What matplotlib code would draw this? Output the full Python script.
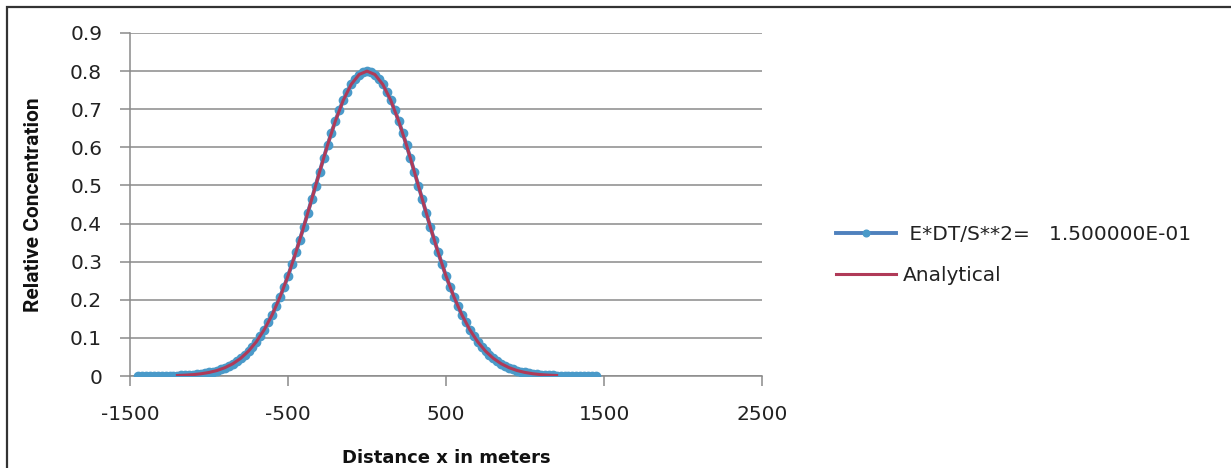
import matplotlib
matplotlib.use("Agg")
import matplotlib.pyplot as plt
import numpy as np
from matplotlib.patches import Rectangle


# numerical solution, every 25 m from -1450 to 1450
numeric_x = np.arange(-1450, 1451, 25)
numeric_conc = [
    0.0001, 0.0001, 0.0001, 0.0002, 0.0002, 0.0003, 0.0004, 0.0005, 0.0007, 0.0010,
    0.0013, 0.0017, 0.0022, 0.0028, 0.0036, 0.0046, 0.0059, 0.0074, 0.0093, 0.0116,
    0.0143, 0.0177, 0.0217, 0.0264, 0.0320, 0.0386, 0.0462, 0.0551, 0.0653, 0.0769,
    0.0901, 0.1051, 0.1218, 0.1404, 0.1609, 0.1834, 0.2079, 0.2343, 0.2626, 0.2928,
    0.3246, 0.3578, 0.3922, 0.4276, 0.4635, 0.4997, 0.5358, 0.5712, 0.6056, 0.6385,
    0.6694, 0.6980, 0.7237, 0.7462, 0.7651, 0.7802, 0.7911, 0.7978, 0.8000, 0.7978,
    0.7911, 0.7802, 0.7651, 0.7462, 0.7237, 0.6980, 0.6694, 0.6385, 0.6056, 0.5712,
    0.5358, 0.4997, 0.4635, 0.4276, 0.3922, 0.3578, 0.3246, 0.2928, 0.2626, 0.2343,
    0.2079, 0.1834, 0.1609, 0.1404, 0.1218, 0.1051, 0.0901, 0.0769, 0.0653, 0.0551,
    0.0462, 0.0386, 0.0320, 0.0264, 0.0217, 0.0177, 0.0143, 0.0116, 0.0093, 0.0074,
    0.0059, 0.0046, 0.0036, 0.0028, 0.0022, 0.0017, 0.0013, 0.0010, 0.0007, 0.0005,
    0.0004, 0.0003, 0.0002, 0.0002, 0.0001, 0.0001, 0.0001,
]

# analytical solution, every 50 m from -1200 to 1200
analytic_x = np.arange(-1200, 1201, 50)
analytic_conc = [
    0.0013, 0.0022, 0.0036, 0.0059, 0.0093, 0.0143, 0.0217, 0.0320, 0.0462, 0.0653,
    0.0901, 0.1218, 0.1609, 0.2079, 0.2626, 0.3246, 0.3922, 0.4635, 0.5358, 0.6056,
    0.6694, 0.7237, 0.7651, 0.7911, 0.8000, 0.7911, 0.7651, 0.7237, 0.6694, 0.6056,
    0.5358, 0.4635, 0.3922, 0.3246, 0.2626, 0.2079, 0.1609, 0.1218, 0.0901, 0.0653,
    0.0462, 0.0320, 0.0217, 0.0143, 0.0093, 0.0059, 0.0036, 0.0022, 0.0013,
]

x_ticks = [-1500, -500, 500, 1500, 2500]
y_ticks = [0, 0.1, 0.2, 0.3, 0.4, 0.5, 0.6, 0.7, 0.8, 0.9]
y_labels = ["0", "0.1", "0.2", "0.3", "0.4", "0.5", "0.6", "0.7", "0.8", "0.9"]

plt.rcParams['font.family'] = ['DejaVu Sans']
plt.rcParams['axes.unicode_minus'] = False

W, H = 1231, 468
fig = plt.figure(figsize=(W / 100, H / 100), dpi=100)
ax = fig.add_axes([130 / W, 1 - 376 / H, (762 - 130) / W, (376 - 33) / H])

grid_col = '#8a8a8a'
ax.plot(numeric_x, numeric_conc, color='#4f81bd', lw=2.8, marker='o', ms=6,
        mfc='#4a9ac9', mec='#4a9ac9', label=' E*DT/S**2=   1.500000E-01', zorder=3)
ax.plot(analytic_x, analytic_conc, color='#b03a58', lw=2.2, label='Analytical', zorder=4)

ax.set_xlim(-1500, 2500)
ax.set_ylim(0, 0.9)
ax.set_xticks(x_ticks)
ax.set_yticks(y_ticks)
ax.set_yticklabels(y_labels)
ax.yaxis.grid(True, color=grid_col, lw=1.1)
ax.set_axisbelow(True)

for s in ['top', 'right']:
    ax.spines[s].set_visible(False)
for s in ['left', 'bottom']:
    ax.spines[s].set_color(grid_col)
    ax.spines[s].set_linewidth(1.1)

ax.tick_params(axis='both', colors=grid_col, labelcolor='#222222', labelsize=14.5,
               length=7, width=1.1, direction='out')
ax.tick_params(axis='y', pad=13)
ax.tick_params(axis='x', pad=14)

ax.set_ylabel('Relative Concentration', fontsize=15, fontweight='bold',
              family=['Roboto', 'DejaVu Sans'], color='#111111')
ax.yaxis.set_label_coords(-0.137, 0.5)
ax.set_xlabel('Distance x in meters', fontsize=13, fontweight='bold', color='#111111')
ax.xaxis.set_label_coords(0.5, -0.214)

leg = ax.legend(loc='center left', bbox_to_anchor=(828 / W, 1 - 255 / H),
                bbox_transform=fig.transFigure, frameon=False, fontsize=14.5,
                handlelength=3.0, handletextpad=0.3, labelspacing=1.1,
                markerscale=0.8, borderaxespad=0)
for t in leg.get_texts():
    t.set_color('#222222')

fig.patches.append(Rectangle((7 / W, -0.1), 1.5, 1.1 - 7 / H, fill=False,
                             edgecolor='#333333', lw=1.6, transform=fig.transFigure))

fig.savefig('out.png', dpi=100)
